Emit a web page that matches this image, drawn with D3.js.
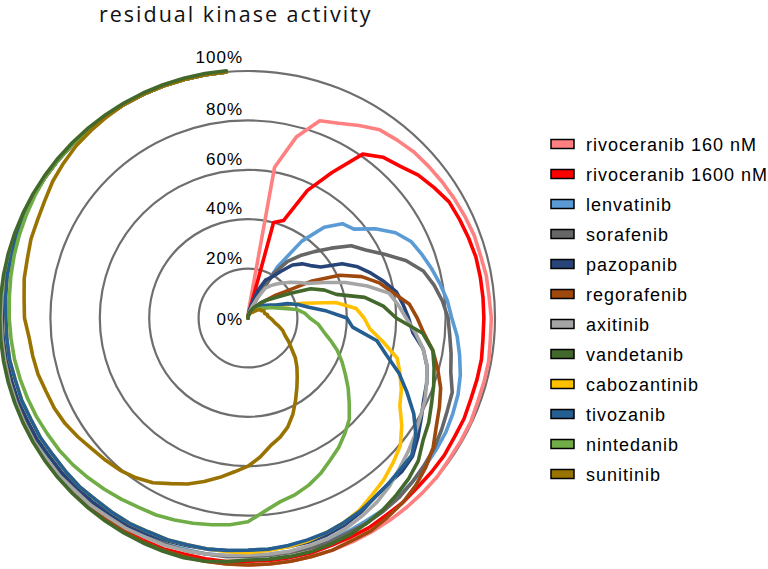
<!DOCTYPE html>
<html>
<head>
<meta charset="utf-8">
<script src="https://cdn.jsdelivr.net/npm/d3@7"></script>
<style>
  body { margin: 0; background: #ffffff; }
  #viz_container { width: 768px; height: 569px; }
</style>
</head>
<body>
<div id="viz_container"></div>
<script>
// kinases ranked by residual activity, 5 degree steps round the circle
const kinases = d3.range(72);

// residual activity (%) per ranked kinase, rows of 12 = 60 degrees each
const rivo160 = [
  0, 3, 62, 76, 85, 87, 90, 93, 94, 95, 95.5, 96,
  96.5, 97, 97.5, 97.5, 98, 98, 98.5, 98.5, 99, 99, 99, 99.5,
  99.5, 99.5, 100, 100, 100, 100, 100, 100, 100, 100, 100, 100,
  100, 100, 100, 100, 100, 100, 100, 100, 100, 100, 100, 100,
  100, 100, 100, 100, 100, 100, 100, 100, 100, 100, 100, 100,
  100, 100, 100, 100, 100, 100, 100, 100, 100, 100, 100, 100
];
const rivo1600 = [
  0, 1, 2, 40, 42, 57, 68, 81, 85, 87, 90, 92,
  94, 94.5, 95, 95.5, 95.5, 95.5, 95.5, 95.5, 96, 96, 96, 96.5,
  96.5, 97, 97, 97, 97.5, 97.5, 98, 98, 98, 98.5, 98.5, 98.5,
  98.5, 99, 99, 99, 99.5, 99.5, 99.5, 100, 100, 100, 100, 100,
  100, 100, 100, 100, 100, 100, 100, 100, 100, 100, 100, 100,
  100, 100, 100, 100, 100, 100, 100, 100, 100, 100, 100, 100
];
const lenvatinib = [
  0, 1, 2, 3, 5, 10, 24, 38, 48, 54, 56, 63,
  69, 73, 75, 77, 79, 81, 82.5, 85, 87, 89, 90.5, 91.5,
  92.5, 93, 93.5, 94, 94.5, 95, 95, 95.5, 95.5, 96, 96, 96,
  96, 96.5, 97, 97, 97.5, 97.5, 98, 98, 98, 98.5, 98.5, 99,
  99, 99, 99, 99.5, 99.5, 99.5, 100, 100, 100, 100, 100, 100,
  100, 100, 100, 100, 100, 100, 100, 100, 100, 100, 100, 100
];
const sorafenib = [
  0, 1, 1, 2, 4, 9, 21, 28, 33, 38, 44, 51,
  55, 61, 68, 73.5, 76.5, 79, 81, 82, 83.5, 85, 88, 89,
  90.5, 92, 93, 94, 95, 95.5, 96, 96, 96.5, 96.5, 96.5, 96.5,
  96.5, 97, 97, 97.5, 97.5, 98, 98, 98.5, 98.5, 99, 99, 99,
  99.5, 99.5, 99.5, 100, 100, 100, 100, 100, 100, 100, 100, 100,
  100, 100, 100, 100, 100, 100, 100, 100, 100, 100, 100, 100
];
const pazopanib = [
  0, 1, 3, 6, 12, 17, 19, 23, 28, 31, 33, 36,
  44, 49, 53, 57, 61, 63, 65, 67, 72, 75, 77, 78.5,
  81, 84, 87, 88, 88, 89, 91, 92.5, 93.5, 94, 94, 94,
  94, 94.5, 95, 95.5, 96, 96.5, 97, 97, 97.5, 97.5, 98, 98,
  98.5, 98.5, 99, 99, 99, 99.5, 99.5, 99.5, 100, 100, 100, 100,
  100, 100, 100, 100, 100, 100, 100, 100, 100, 100, 100, 100
];
const regorafenib = [
  0, 1, 2, 2, 3, 4, 5, 6, 8, 10, 14, 19,
  30, 41, 49, 55, 59.5, 65.5, 68.5, 71.5, 76, 79.5, 83, 85.5,
  88, 91.5, 94, 96, 97.5, 98.5, 99.5, 99.5, 100, 100, 100, 100,
  100, 100, 100, 100, 100, 100, 100, 100, 100, 100, 100, 100,
  100, 100, 100, 100, 100, 100, 100, 100, 100, 100, 100, 100,
  100, 100, 100, 100, 100, 100, 100, 100, 100, 100, 100, 100
];
const axitinib = [
  0, 1, 2, 3, 5, 9, 14, 16, 18, 20, 22.5, 25,
  28, 34, 42, 50, 58, 61, 64, 68, 72, 75, 77, 79,
  80.5, 82.5, 84.5, 86.5, 89, 91, 92.5, 94, 95, 95.5, 96, 96,
  96, 96.5, 97, 97.5, 98, 98, 98.5, 98.5, 99, 99, 99.5, 99.5,
  100, 100, 100, 100, 100, 100, 100, 100, 100, 100, 100, 100,
  100, 100, 100, 100, 100, 100, 100, 100, 100, 100, 100, 100
];
const vandetanib = [
  0, 1, 1, 2, 3, 4, 5, 6, 8, 10, 12, 15,
  20, 28, 33, 37, 48, 55, 60, 71, 76, 78, 80, 82,
  84.5, 86.5, 90, 92, 93.5, 95, 96, 97, 97.5, 98, 98, 98,
  98, 99, 100, 100.5, 100.5, 100.5, 100.5, 100.5, 100.5, 100.5, 100.5, 100.5,
  100.5, 100.5, 100.5, 100.5, 100.5, 100.5, 100.5, 100.5, 100.5, 100.5, 100.5, 100.5,
  100.5, 100.5, 100.5, 100.5, 100.5, 100.5, 100.5, 100.5, 100.5, 100.5, 100.5, 100.5
];
const cabozantinib = [
  0, 1, 1, 2, 2, 3, 3, 4, 4, 5, 6, 7,
  9.5, 12, 15, 23, 36, 44, 47, 49.5, 55.5, 62.5, 65.5, 68.5,
  71, 76, 80.5, 83, 85.5, 87.5, 90, 91.5, 92.5, 93.5, 94, 94.5,
  95, 95, 95, 95, 95.5, 95.5, 96, 96, 96, 96.5, 96.5, 96.5,
  97, 97, 97.5, 97.5, 98, 98, 98, 98.5, 99, 99, 99.5, 99.5,
  100, 100, 100, 100, 100, 100, 100, 100, 100, 100, 100, 100
];
const tivozanib = [
  0, 1, 1, 2, 3, 3, 4, 5, 6, 7, 8, 9,
  10.5, 12.5, 17, 21, 25, 32, 40, 42.5, 53, 58, 65, 71,
  77.5, 83, 86.5, 87, 88, 89, 90.5, 91.5, 92.5, 93, 93.5, 94,
  94, 94.5, 95, 95, 95.5, 95.5, 96, 96, 96, 96.5, 96.5, 96.5,
  97, 97, 97.5, 97.5, 98, 98, 98, 98.5, 99, 99, 99.5, 99.5,
  100, 100, 100, 100, 100, 100, 100, 100, 100, 100, 100, 100
];
const nintedanib = [
  0, 1, 1, 2, 2, 3, 3, 4, 5, 5, 6, 7,
  8, 10, 12, 15, 20, 23, 25, 28.5, 31, 34.5, 38.5, 42,
  45.5, 49.5, 53.5, 58, 61, 64, 66.5, 69.5, 72, 74, 75.5, 78.5,
  82.5, 84, 85, 86, 87, 88, 88.5, 89.5, 90.5, 91.5, 92.5, 93.3,
  93.8, 94.5, 95, 95.5, 96, 96.3, 96.7, 97, 97.5, 98, 98.5, 99,
  99.5, 100, 100, 100, 100, 100, 100, 100, 100, 100, 100, 100
];
const sunitinib = [
  0, 1, 1, 2, 2, 2, 3, 3, 3, 4, 5, 6,
  6, 7, 7, 7, 8, 8, 9, 10, 11, 13, 15, 16.5,
  19, 21.5, 25, 28, 31, 34.5, 38.5, 43, 47, 50, 52.5, 56.5,
  60, 62.5, 65.5, 68.5, 71.5, 74, 77, 79, 80.5, 81.5, 82.5, 84,
  85.5, 86.5, 87, 88, 88.5, 89, 90.5, 91, 92, 92.5, 93.5, 94,
  95, 96.5, 97.5, 98.5, 99, 99.5, 100, 100, 100, 100, 100, 100
];

const drugNames = [
  "rivoceranib 160 nM", "rivoceranib 1600 nM", "lenvatinib", "sorafenib",
  "pazopanib", "regorafenib", "axitinib", "vandetanib", "cabozantinib",
  "tivozanib", "nintedanib", "sunitinib"
];
const drugValues = [
  rivo160, rivo1600, lenvatinib, sorafenib, pazopanib, regorafenib,
  axitinib, vandetanib, cabozantinib, tivozanib, nintedanib, sunitinib
];
const drugColors = [
  "#FF8080", "#FF0000", "#5B9BD5", "#666666", "#264478", "#9E480E",
  "#A5A5A5", "#43682B", "#FFC000", "#255E91", "#70AD47", "#997300"
];
const ringTicks = [0, 20, 40, 60, 80, 100];

const width = 768;
const height = 569;
const cx = 248;
const cy = 318;
const R = 247;

const svg = d3
  .select("#viz_container")
  .append("svg")
  .attr("width", width)
  .attr("height", height)
  .attr("viewBox", `0 0 ${width} ${height}`);

svg.append("rect").attr("width", width).attr("height", height).attr("fill", "#ffffff");

// title
svg
  .append("text")
  .attr("x", 99)
  .attr("y", 22)
  .style("font-family", "'Open Sans', sans-serif")
  .style("font-size", "21.5px")
  .style("letter-spacing", "2px")
  .attr("fill", "#111111")
  .text("residual kinase activity");

const rScale = d3.scaleLinear().domain([0, 100]).range([0, R]);
const aScale = d3.scaleLinear().domain([0, kinases.length]).range([0, 2 * Math.PI]);

const plot = svg.append("g").attr("transform", `translate(${cx},${cy})`);

// rings
plot
  .append("g")
  .selectAll("circle")
  .data(ringTicks.filter((d) => d > 0))
  .enter()
  .append("circle")
  .attr("r", (d) => rScale(d))
  .attr("fill", "none")
  .attr("stroke", "#6E6E6E")
  .attr("stroke-width", 2.2);

// series lines (vandetanib sits on top of the bundle at the rim, so draw it last)
const lineGen = d3
  .lineRadial()
  .angle((d, i) => aScale(kinases[i]))
  .radius((d) => rScale(d));

const drawOrder = [0, 1, 2, 3, 4, 5, 6, 8, 9, 10, 11, 7];

plot
  .append("g")
  .selectAll("path")
  .data(drawOrder)
  .enter()
  .append("path")
  .attr("d", (k) => lineGen(drugValues[k]))
  .attr("fill", "none")
  .attr("stroke", (k) => drugColors[k])
  .attr("stroke-width", 3.6)
  .attr("stroke-linejoin", "round")
  .attr("stroke-linecap", "round");

// ring labels, right aligned just left of the vertical axis
plot
  .append("g")
  .selectAll("text")
  .data(ringTicks)
  .enter()
  .append("text")
  .attr("x", -5)
  .attr("y", (d) => (d === 0 ? 7 : d === 100 ? -rScale(d) - 8 : -rScale(d) - 5))
  .attr("text-anchor", "end")
  .style("font-family", "'Liberation Sans', Arial, sans-serif")
  .style("font-size", "17px")
  .style("letter-spacing", "1px")
  .attr("fill", "#000000")
  .text((d) => `${d}%`);

// legend
const legend = svg.append("g").attr("transform", "translate(551,144)");
const rows = legend
  .selectAll("g")
  .data(drugNames)
  .enter()
  .append("g")
  .attr("transform", (d, i) => `translate(0,${i * 30})`);

rows
  .append("rect")
  .attr("x", 0)
  .attr("y", -4.5)
  .attr("width", 23)
  .attr("height", 9)
  .attr("fill", (d, i) => drugColors[i])
  .attr("stroke", "#000000")
  .attr("stroke-width", 1.5);

rows
  .append("text")
  .attr("x", 35)
  .attr("y", 6.5)
  .style("font-family", "'Liberation Sans', Arial, sans-serif")
  .style("font-size", "18px")
  .style("letter-spacing", "1px")
  .attr("fill", "#000000")
  .text((d) => d);
</script>
</body>
</html>
